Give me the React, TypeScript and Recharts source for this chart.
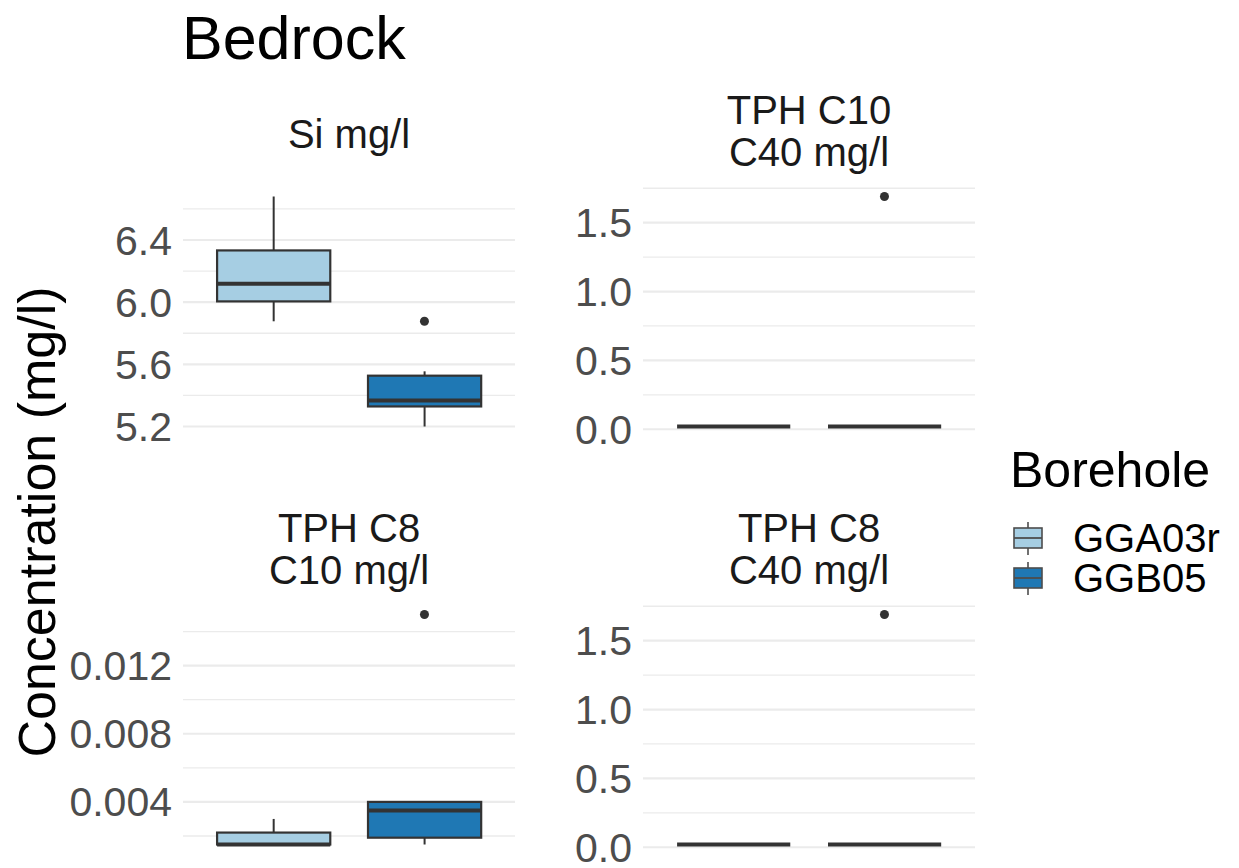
import React from 'react';
import { ComposedChart, Bar, Scatter, XAxis, YAxis, CartesianGrid } from 'recharts';

const FONT = '"Liberation Sans", Arial, Helvetica, sans-serif';

// ---------- data ----------
const boreholes = ['GGA03r', 'GGB05'];
const fillColors = ['#A6CEE3', '#1F78B4'];

// Si mg/l
const siMin = [5.877, 5.2];
const siQ1 = [6.005, 5.329];
const siMedian = [6.119, 5.368];
const siQ3 = [6.333, 5.527];
const siMax = [6.68, 5.555];
const siOutliers = [{ name: 'GGB05', value: 5.877 }];
const siTicks = [5.2, 5.6, 6.0, 6.4];
const siMinorTicks = [5.4, 5.8, 6.2, 6.6];

// TPH C10 C40 mg/l
const c10c40Min = [0.02, 0.02];
const c10c40Q1 = [0.02, 0.02];
const c10c40Median = [0.02, 0.02];
const c10c40Q3 = [0.02, 0.02];
const c10c40Max = [0.02, 0.02];
const c10c40Outliers = [{ name: 'GGB05', value: 1.69 }];
const c10c40Ticks = [0.0, 0.5, 1.0, 1.5];
const c10c40MinorTicks = [0.25, 0.75, 1.25, 1.75];

// TPH C8 C10 mg/l
const c8c10Min = [0.0015, 0.0015];
const c8c10Q1 = [0.0015, 0.0019];
const c8c10Median = [0.0015, 0.0035];
const c8c10Q3 = [0.0022, 0.004];
const c8c10Max = [0.003, 0.004];
const c8c10Outliers = [{ name: 'GGB05', value: 0.015 }];
const c8c10Ticks = [0.004, 0.008, 0.012];
const c8c10MinorTicks = [0.002, 0.006, 0.01, 0.014];

// TPH C8 C40 mg/l
const c8c40Min = [0.02, 0.02];
const c8c40Q1 = [0.02, 0.02];
const c8c40Median = [0.02, 0.02];
const c8c40Q3 = [0.02, 0.02];
const c8c40Max = [0.02, 0.02];
const c8c40Outliers = [{ name: 'GGB05', value: 1.69 }];
const c8c40Ticks = [0.0, 0.5, 1.0, 1.5];
const c8c40MinorTicks = [0.25, 0.75, 1.25, 1.75];

const panelTitles = [['Si mg/l'], ['TPH C10', 'C40 mg/l'], ['TPH C8', 'C10 mg/l'], ['TPH C8', 'C40 mg/l']];
const tickDecimals = [1, 1, 3, 1];

// ---------- helpers ----------
type Row = { name: string; min: number; q1: number; median: number; q3: number; max: number };

function buildRows(mn: number[], q1: number[], md: number[], q3: number[], mx: number[]): Row[] {
  return boreholes.map((name, i) => ({ name, min: mn[i], q1: q1[i], median: md[i], q3: q3[i], max: mx[i] }));
}

const panels = [
  { rows: buildRows(siMin, siQ1, siMedian, siQ3, siMax), outliers: siOutliers, ticks: siTicks, minor: siMinorTicks },
  { rows: buildRows(c10c40Min, c10c40Q1, c10c40Median, c10c40Q3, c10c40Max), outliers: c10c40Outliers, ticks: c10c40Ticks, minor: c10c40MinorTicks },
  { rows: buildRows(c8c10Min, c8c10Q1, c8c10Median, c8c10Q3, c8c10Max), outliers: c8c10Outliers, ticks: c8c10Ticks, minor: c8c10MinorTicks },
  { rows: buildRows(c8c40Min, c8c40Q1, c8c40Median, c8c40Q3, c8c40Max), outliers: c8c40Outliers, ticks: c8c40Ticks, minor: c8c40MinorTicks },
];

// ---------- layout ----------
const PLOT_W = 332;
const PLOT_H = 253;
const AXIS_W = 140;
const MR = 10;
const MV = 20;
const plotOrigins = [
  { x: 183, y: 185 },
  { x: 643, y: 185 },
  { x: 183, y: 603 },
  { x: 643, y: 603 },
];
const INK = '#333333';

function BoxShape(props: any) {
  const { x, y, width, height, payload } = props;
  if (payload == null || x == null || y == null) return null;
  const r: Row = payload;
  const yA = y;
  const yB = y + (height || 0);
  const top = Math.min(yA, yB); // pixel of max
  const bot = Math.max(yA, yB); // pixel of min
  const span = r.max - r.min;
  const px = (v: number) => (span === 0 ? top : bot + ((v - r.min) / span) * (top - bot));
  const cx = x + width / 2;
  const fill = fillColors[boreholes.indexOf(r.name)];
  const yq1 = px(r.q1);
  const yq3 = px(r.q3);
  const ymed = px(r.median);
  return (
    <g>
      <line x1={cx} x2={cx} y1={top} y2={yq3} stroke={INK} strokeWidth={2} />
      <line x1={cx} x2={cx} y1={yq1} y2={bot} stroke={INK} strokeWidth={2} />
      <rect x={x} y={Math.min(yq1, yq3)} width={width} height={Math.abs(yq1 - yq3)} fill={fill} stroke={INK} strokeWidth={2.2} />
      <line x1={x} x2={x + width} y1={ymed} y2={ymed} stroke={INK} strokeWidth={4} />
    </g>
  );
}

function Dot(props: any) {
  const { cx, cy } = props;
  if (cx == null || cy == null) return null;
  return <circle cx={cx} cy={cy} r={4.5} fill={INK} />;
}

function Panel({ idx }: { idx: number }) {
  const p = panels[idx];
  const o = plotOrigins[idx];
  const vals: number[] = [];
  p.rows.forEach((r) => vals.push(r.min, r.max));
  p.outliers.forEach((ol) => vals.push(ol.value));
  const lo = Math.min(...vals);
  const hi = Math.max(...vals);
  const pad = (hi - lo) * 0.05;
  const domain: [number, number] = [lo - pad, hi + pad];
  const allTicks = [...p.ticks, ...p.minor].filter((v) => v >= domain[0] && v <= domain[1]).sort((a, b) => a - b);
  const isMajor = allTicks.map((v) => p.ticks.some((t) => Math.abs(t - v) < 1e-9));
  const dec = tickDecimals[idx];
  const bandPad = PLOT_W * (0.1 / 2.2);
  const horizontalLine = (lp: any) => (
    <line
      key={lp.key}
      x1={lp.x1}
      x2={lp.x2}
      y1={lp.y1}
      y2={lp.y2}
      stroke="#EBEBEB"
      strokeWidth={isMajor[lp.index] ? 2.2 : 1.3}
    />
  );
  return (
    <div style={{ position: 'absolute', left: o.x - AXIS_W, top: o.y - MV }}>
      <ComposedChart
        width={AXIS_W + PLOT_W + MR}
        height={PLOT_H + 2 * MV}
        data={p.rows}
        margin={{ top: MV, right: MR, bottom: MV, left: 0 }}
      >
        <CartesianGrid stroke="#EBEBEB" strokeWidth={2.2} syncWithTicks horizontal={horizontalLine} />
        <XAxis
          dataKey="name"
          type="category"
          allowDuplicatedCategory={false}
          height={0}
          tick={false}
          axisLine={false}
          tickLine={false}
          padding={{ left: bandPad, right: bandPad }}
        />
        <YAxis
          type="number"
          domain={domain}
          allowDataOverflow
          ticks={allTicks}
          interval={0}
          width={AXIS_W}
          axisLine={false}
          tickLine={false}
          tickSize={0}
          tickMargin={11}
          tickFormatter={(v: number) => (isMajor[allTicks.findIndex((t) => Math.abs(t - v) < 1e-12)] ? v.toFixed(dec) : '')}
          tick={{ fontSize: 41, fill: '#4D4D4D', fontFamily: FONT }}
        />
        <Bar
          dataKey={(d: Row) => [d.min, d.max]}
          barSize={((PLOT_W - 2 * bandPad) / 2) * 0.75}
          shape={BoxShape}
          isAnimationActive={false}
        />
        <Scatter data={p.outliers} dataKey="value" shape={Dot} isAnimationActive={false} />
      </ComposedChart>
    </div>
  );
}

export default function App() {
  const stripBaselines = (lines: number, plotTop: number) =>
    lines === 1 ? [plotTop - 37.5] : [plotTop - 61.5, plotTop - 19.5];
  return (
    <div style={{ position: 'absolute', left: 0, top: 0, width: 1239, height: 868, background: '#ffffff', overflow: 'hidden' }}>
      <svg width={1239} height={868} style={{ position: 'absolute', left: 0, top: 0 }}>
        <text x={182} y={59} fontSize={61} fontFamily={FONT} fill="#000000">Bedrock</text>
        <text
          x={55}
          y={522}
          fontSize={52}
          fontFamily={FONT}
          fill="#000000"
          textAnchor="middle"
          transform="rotate(-90, 55, 522)"
        >
          Concentration (mg/l)
        </text>
        {panelTitles.map((lines, i) => {
          const o = plotOrigins[i];
          const cx = o.x + PLOT_W / 2;
          const bl = stripBaselines(lines.length, o.y);
          return lines.map((t, j) => (
            <text key={`s${i}-${j}`} x={cx} y={bl[j]} fontSize={40} fontFamily={FONT} fill="#1A1A1A" textAnchor="middle">
              {t}
            </text>
          ));
        })}
        <text x={1010} y={487} fontSize={50} fontFamily={FONT} fill="#000000">Borehole</text>
        {boreholes.map((b, i) => {
          const cy = 538 + i * 40;
          return (
            <g key={b}>
              <line x1={1028} x2={1028} y1={cy - 16} y2={cy + 17} stroke="#4D4D4D" strokeWidth={1.6} />
              <rect x={1014} y={cy - 10} width={28} height={20} fill={fillColors[i]} stroke="#4D4D4D" strokeWidth={1.6} />
              <line x1={1014} x2={1042} y1={cy} y2={cy} stroke="#4D4D4D" strokeWidth={1.8} />
              <text x={1073} y={cy + 14} fontSize={40} fontFamily={FONT} fill="#000000">{b}</text>
            </g>
          );
        })}
      </svg>
      {panels.map((_, i) => (
        <Panel key={i} idx={i} />
      ))}
    </div>
  );
}
